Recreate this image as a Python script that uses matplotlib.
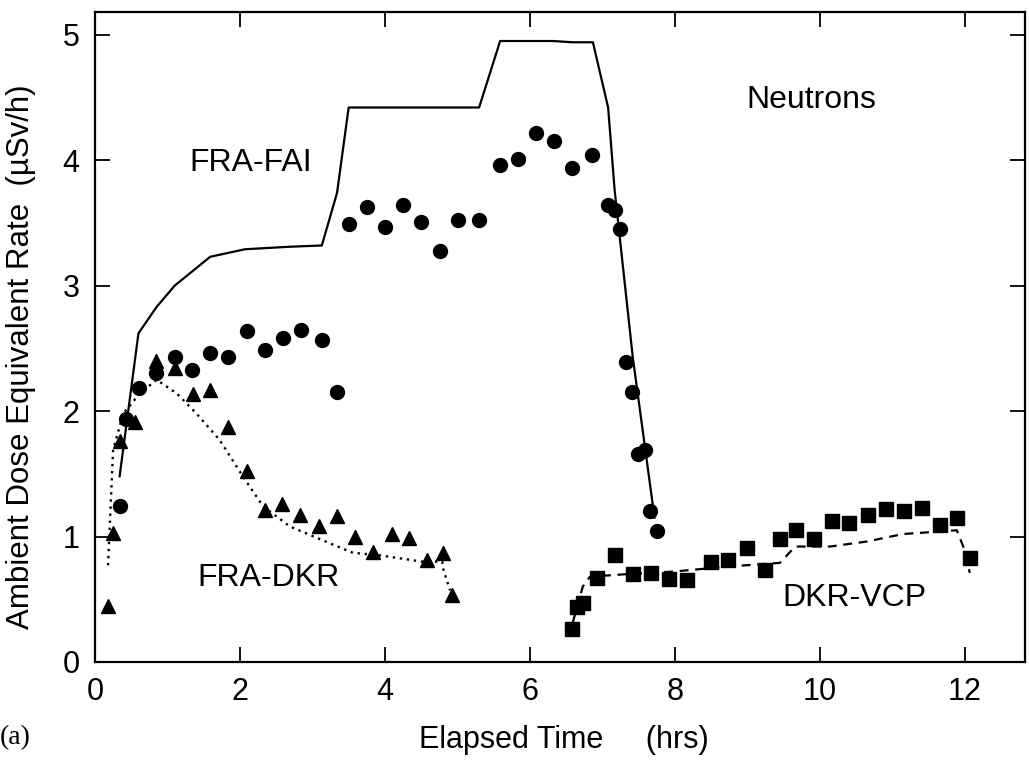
import numpy as np
import matplotlib
matplotlib.use("Agg")
import matplotlib.pyplot as plt

plt.rcParams['font.family'] = ['Liberation Sans', 'DejaVu Sans']

# FRA-FAI : points mesures (cercles) et calcul (trait plein)
fai_t = [0.34, 0.43, 0.61, 0.84, 1.10, 1.34, 1.59, 1.83, 2.10, 2.34, 2.59, 2.84, 3.13, 3.34,
         3.50, 3.75, 4.00, 4.25, 4.50, 4.76, 5.01, 5.30, 5.59, 5.83, 6.08, 6.33, 6.58, 6.86,
         7.08, 7.17, 7.24, 7.32, 7.41, 7.49, 7.59, 7.66, 7.75]
fai_d = [1.24, 1.94, 2.18, 2.30, 2.43, 2.33, 2.46, 2.43, 2.64, 2.49, 2.58, 2.65, 2.57, 2.15,
         3.49, 3.63, 3.47, 3.64, 3.51, 3.28, 3.52, 3.52, 3.96, 4.01, 4.22, 4.15, 3.94, 4.04,
         3.64, 3.60, 3.45, 2.39, 2.15, 1.66, 1.69, 1.20, 1.04]
fai_calc_t = [0.34, 0.60, 0.85, 1.10, 1.59, 2.07, 2.69, 3.13, 3.34, 3.50, 5.30, 5.59, 6.32,
              6.59, 6.87, 7.08, 7.17, 7.42, 7.72]
fai_calc_d = [1.48, 2.62, 2.83, 3.00, 3.23, 3.29, 3.31, 3.32, 3.74, 4.42, 4.42, 4.95, 4.95,
              4.94, 4.94, 4.42, 3.76, 2.43, 1.15]

# FRA-DKR : triangles et pointille
dkr_t = [0.18, 0.25, 0.34, 0.55, 0.84, 1.10, 1.35, 1.59, 1.83, 2.10, 2.34, 2.58, 2.83, 3.09,
         3.34, 3.59, 3.83, 4.10, 4.33, 4.58, 4.80, 4.92]
dkr_d = [0.45, 1.03, 1.76, 1.91, 2.40, 2.34, 2.14, 2.17, 1.87, 1.52, 1.21, 1.26, 1.17, 1.08,
         1.16, 1.00, 0.88, 1.02, 0.99, 0.81, 0.87, 0.53]
dkr_calc_t = [0.18, 0.25, 0.39, 0.62, 0.85, 1.13, 1.40, 1.72, 2.04, 2.32, 2.69, 3.14, 3.56,
              3.93, 4.51, 4.79, 4.81, 4.90]
dkr_calc_d = [0.77, 1.69, 1.98, 2.14, 2.25, 2.14, 1.98, 1.77, 1.48, 1.24, 1.08, 0.97, 0.87,
              0.85, 0.80, 0.80, 0.73, 0.57]

# DKR-VCP : carres et tirets
vcp_t = [6.58, 6.65, 6.73, 6.92, 7.17, 7.42, 7.67, 7.92, 8.17, 8.50, 8.74, 8.99, 9.24, 9.45,
         9.67, 9.92, 10.17, 10.41, 10.66, 10.92, 11.16, 11.41, 11.66, 11.89, 12.07]
vcp_d = [0.26, 0.44, 0.47, 0.67, 0.85, 0.70, 0.71, 0.66, 0.65, 0.80, 0.81, 0.91, 0.73, 0.98,
         1.05, 0.98, 1.12, 1.11, 1.17, 1.22, 1.20, 1.23, 1.09, 1.15, 0.83]
vcp_calc_t = [6.59, 6.73, 6.83, 7.34, 7.97, 8.72, 9.45, 9.66, 10.14, 10.65, 11.15, 11.66,
              11.89, 11.98, 12.07]
vcp_calc_d = [0.31, 0.60, 0.68, 0.70, 0.72, 0.76, 0.79, 0.92, 0.92, 0.96, 1.02, 1.04,
              1.05, 0.92, 0.71]

fig = plt.figure(figsize=(10.29, 7.6), dpi=100)
ax = fig.add_axes([0.0923, 0.129, 0.9037, 0.855])

ax.plot(fai_calc_t, fai_calc_d, color='black', linewidth=1.6)
ax.plot(dkr_calc_t, dkr_calc_d, color='black', linewidth=1.7, linestyle=(0, (1, 2)))
ax.plot(vcp_calc_t, vcp_calc_d, color='black', linewidth=1.6, linestyle=(0, (4, 3)))

ax.plot(fai_t, fai_d, 'o', color='black', markersize=10)
ax.plot(dkr_t, dkr_d, '^', color='black', markersize=9.5)
ax.plot(vcp_t, vcp_d, 's', color='black', markersize=10)

ax.set_xlim(0, 12.83)
ax.set_ylim(0, 5.18)
ax.set_xticks([0, 2, 4, 6, 8, 10, 12])
ax.set_yticks([0, 1, 2, 3, 4, 5])
ax.tick_params(direction='in', length=11, width=1.3, top=True, right=True,
               labelsize=22, pad=11)
for s in ax.spines.values():
    s.set_linewidth(1.6)

ax.set_xlabel('Elapsed Time     (hrs)', fontsize=22)
ax.set_ylabel('Ambient Dose Equivalent Rate  (\u00b5Sv/h)', fontsize=22.5)
ax.xaxis.set_label_coords(0.504, -0.097)
ax.yaxis.set_label_coords(-0.063, 0.47)

ax.text(2.15, 3.98, 'FRA-FAI', fontsize=23, ha='center', va='center')
ax.text(9.88, 4.48, 'Neutrons', fontsize=23, ha='center', va='center')
ax.text(2.39, 0.67, 'FRA-DKR', fontsize=23, ha='center', va='center')
ax.text(10.48, 0.51, 'DKR-VCP', fontsize=23, ha='center', va='center')

fig.text(0.0, 0.03, '(a)', fontsize=20, family=['Liberation Serif', 'DejaVu Serif'],
         ha='left', va='center')

fig.savefig('out.png', dpi=100)
